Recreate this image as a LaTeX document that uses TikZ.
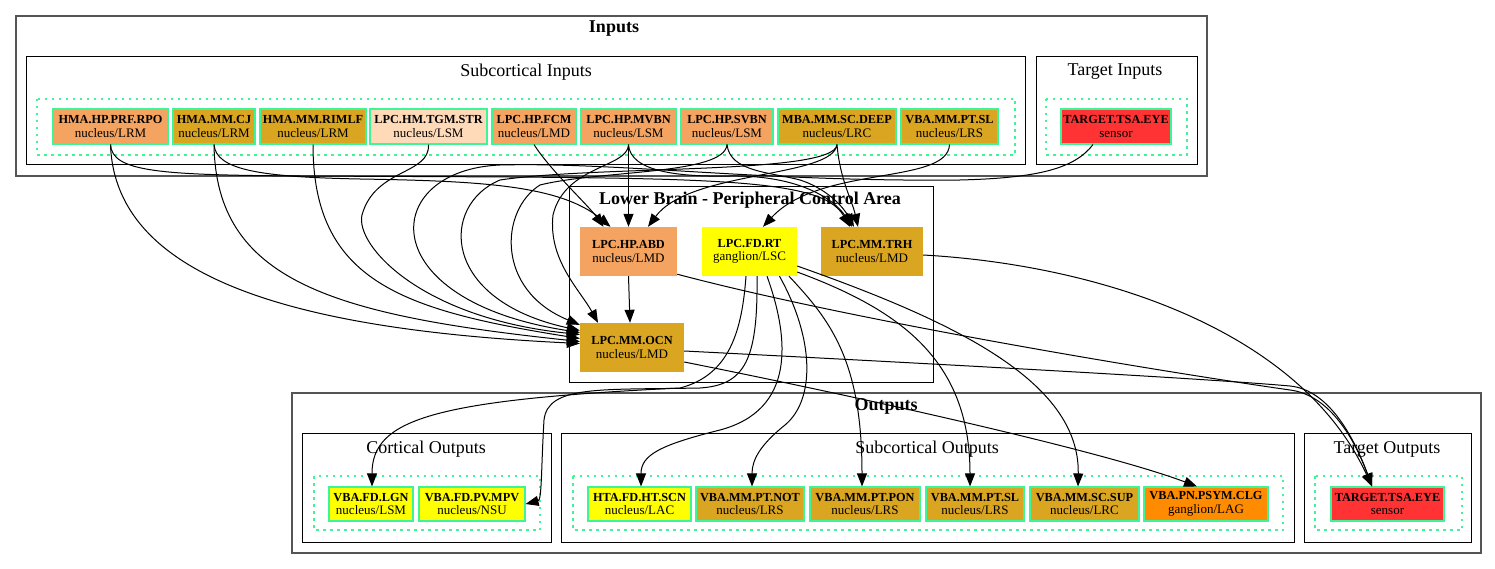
\documentclass[tikz,border=0pt]{standalone}
\usepackage{fontspec}
\setmainfont{Liberation Serif}
\usetikzlibrary{arrows.meta,calc}
\definecolor{sandy}{HTML}{F4A460}
\definecolor{gold}{HTML}{DAA520}
\definecolor{peach}{HTML}{FFDAB9}
\definecolor{eyered}{HTML}{FF3333}
\definecolor{yel}{HTML}{FFFF00}
\definecolor{dorange}{HTML}{FF8C00}
\definecolor{sgreen}{HTML}{3CF596}
\definecolor{outergray}{HTML}{555555}
\newcommand{\twoline}[2]{{\fontsize{12.3}{13.5}\selectfont\bfseries #1}\\{\fontsize{13}{13.5}\selectfont #2}}
\tikzset{
  nbox/.style={rectangle, draw=sgreen, line width=1.1pt, inner sep=0pt, minimum height=35pt, align=center, font=\fontsize{13}{13.5}\selectfont},
  obox/.style={nbox, minimum height=34pt},
  lbox/.style={rectangle, inner sep=0pt, minimum height=49pt, align=center, font=\fontsize{13}{13.5}\selectfont},
  outerclu/.style={draw=outergray, line width=1.3pt},
  clu/.style={draw=black, line width=1pt},
  dotclu/.style={draw=sgreen, line width=1.2pt, dash pattern=on 2.5pt off 4.5pt},
  edge/.style={draw=black, line width=1pt, -{Triangle[length=13pt,width=10pt]}},
  ctitle/.style={inner sep=0pt, font=\fontsize{18}{20}\selectfont\bfseries},
  clabel/.style={inner sep=0pt, font=\fontsize{18}{20}\selectfont},
}
\begin{document}
\begin{tikzpicture}[x=1pt,y=-1pt]
\useasboundingbox (0,0) rectangle (1495,569);
\fill[white] (0,0) rectangle (1495,569);
% clusters
\draw[outerclu] (16,16) rectangle (1207,176);
\node[ctitle] (tIn) at (614,29) {Inputs};
\draw[clu] (26,57) rectangle (1025,165);
\node[clabel] (tSubIn) at (526,72) {Subcortical Inputs};
\draw[dotclu] (37,99) rectangle (1015,155);
\draw[clu] (1036,57) rectangle (1197,165);
\node[clabel] (tTgIn) at (1115,72) {Target Inputs};
\draw[dotclu] (1046,99) rectangle (1187,155);
\draw[clu] (569,187) rectangle (933,382);
\node[ctitle] (tLB) at (750,200) {Lower Brain - Peripheral Control Area};
\draw[outerclu] (292,393) rectangle (1481,553);
\node[ctitle] (tOut) at (886,406) {Outputs};
\draw[clu] (302,433) rectangle (551,542);
\node[clabel] (tCort) at (426,449) {Cortical Outputs};
\draw[dotclu] (314,476) rectangle (540,530);
\draw[clu] (561,433) rectangle (1294,542);
\node[clabel] (tSubOut) at (927,449) {Subcortical Outputs};
\draw[dotclu] (573,476) rectangle (1283,530);
\draw[clu] (1304,433) rectangle (1471,542);
\node[clabel] (tTgOut) at (1387,449) {Target Outputs};
\draw[dotclu] (1315,476) rectangle (1462,530);
% input nodes
\node[nbox, fill=sandy, minimum width=115pt] (n1) at (110.5,126.5) {\twoline{HMA.HP.PRF.RPO}{nucleus/LRM}};
\node[nbox, fill=gold, minimum width=82pt] (n2) at (214,126.5) {\twoline{HMA.MM.CJ}{nucleus/LRM}};
\node[nbox, fill=gold, minimum width=106pt] (n3) at (313,126.5) {\twoline{HMA.MM.RIMLF}{nucleus/LRM}};
\node[nbox, fill=peach, minimum width=117pt] (n4) at (428.5,126.5) {\twoline{LPC.HM.TGM.STR}{nucleus/LSM}};
\node[nbox, fill=sandy, minimum width=84pt] (n5) at (534,126.5) {\twoline{LPC.HP.FCM}{nucleus/LMD}};
\node[nbox, fill=sandy, minimum width=95pt] (n6) at (628.5,126.5) {\twoline{LPC.HP.MVBN}{nucleus/LSM}};
\node[nbox, fill=sandy, minimum width=92pt] (n7) at (727,126.5) {\twoline{LPC.HP.SVBN}{nucleus/LSM}};
\node[nbox, fill=gold, minimum width=118pt] (n8) at (837,126.5) {\twoline{MBA.MM.SC.DEEP}{nucleus/LRC}};
\node[nbox, fill=gold, minimum width=97pt] (n9) at (949.5,126.5) {\twoline{VBA.MM.PT.SL}{nucleus/LRS}};
\node[nbox, fill=eyered, minimum width=110pt] (ti) at (1116,126.5) {\twoline{TARGET.TSA.EYE}{sensor}};
% lower brain nodes
\node[lbox, fill=sandy, minimum width=97pt] (abd) at (628.5,251.5) {\twoline{LPC.HP.ABD}{nucleus/LMD}};
\node[lbox, fill=yel, minimum width=95pt] (rt) at (749.5,251.5) {\twoline{LPC.FD.RT}{ganglion/LSC}};
\node[lbox, fill=gold, minimum width=102pt] (trh) at (872,251.5) {\twoline{LPC.MM.TRH}{nucleus/LMD}};
\node[lbox, fill=gold, minimum width=104pt] (ocn) at (632,347.5) {\twoline{LPC.MM.OCN}{nucleus/LMD}};
% output nodes
\node[obox, fill=yel, minimum width=84pt] (lgn) at (371,504) {\twoline{VBA.FD.LGN}{nucleus/LSM}};
\node[obox, fill=yel, minimum width=106pt] (mpv) at (472,504) {\twoline{VBA.FD.PV.MPV}{nucleus/NSU}};
\node[obox, fill=yel, minimum width=103pt] (scn) at (639.5,504) {\twoline{HTA.FD.HT.SCN}{nucleus/LAC}};
\node[obox, fill=gold, minimum width=108pt] (not) at (750,504) {\twoline{VBA.MM.PT.NOT}{nucleus/LRS}};
\node[obox, fill=gold, minimum width=110pt] (pon) at (865,504) {\twoline{VBA.MM.PT.PON}{nucleus/LRS}};
\node[obox, fill=gold, minimum width=98pt] (psl) at (975,504) {\twoline{VBA.MM.PT.SL}{nucleus/LRS}};
\node[obox, fill=gold, minimum width=109pt] (sup) at (1084.5,504) {\twoline{VBA.MM.SC.SUP}{nucleus/LRC}};
\node[obox, fill=dorange, minimum width=124pt] (clg) at (1206,504) {\twoline{VBA.PN.PSYM.CLG}{ganglion/LAG}};
\node[obox, fill=eyered, minimum width=113pt] (to) at (1387.5,504) {\twoline{TARGET.TSA.EYE}{sensor}};
% edges from inputs
\draw[edge] (n1.south) .. controls (115,280) and (300,330) .. ([yshift=4pt]ocn.west);
\draw[edge] (n1.south) .. controls (112,172) and (160,175) .. (300,176) .. controls (700,178) and (820,175) .. ([xshift=-22pt]trh.north);
\draw[edge] (n2.south) .. controls (216,280) and (330,315) .. ([yshift=6pt]ocn.west);
\draw[edge] (n2.south) .. controls (216,170) and (260,177) .. (360,179) .. controls (480,181) and (560,185) .. ([xshift=-18pt]abd.north);
\draw[edge] (n3.south) .. controls (313,280) and (400,310) .. ([yshift=9pt]ocn.west);
\draw[edge] (n4.south) .. controls (430,175) and (375,168) .. (362,215) .. controls (355,245) and (420,318) .. ([yshift=13pt]ocn.west);
\draw[edge] (n5.south) .. controls (550,170) and (588,205) .. ([xshift=-25pt]abd.north);
\draw[edge] (n6.south) -- (abd.north);
\draw[edge] (n6.south) .. controls (628,168) and (565,165) .. (553,215) .. controls (548,260) and (580,290) .. ([xshift=-34pt]ocn.north);
\draw[edge] (n6.south) .. controls (630,172) and (680,177) .. (730,176) .. controls (800,175) and (835,200) .. ([xshift=-20pt]trh.north);
\draw[edge] (n7.south) .. controls (725,175) and (600,170) .. (540,185) .. controls (500,210) and (495,290) .. ([yshift=-2pt]ocn.north west);
\draw[edge] (n7.south) .. controls (730,172) and (770,172) .. (800,180) .. controls (825,188) and (842,205) .. ([xshift=-18pt]trh.north);
\draw[edge] (n8.south) .. controls (833,178) and (690,170) .. ([xshift=19.5pt]abd.north);
\draw[edge] (n8.south) .. controls (835,175) and (600,165) .. (500,180) .. controls (440,205) and (440,300) .. ([yshift=17pt]ocn.west);
\draw[edge] (n8.south) .. controls (840,180) and (852,200) .. ([xshift=-14pt]trh.north);
\draw[edge] (n9.south) .. controls (948,185) and (820,165) .. ([xshift=13.5pt]rt.north);
\draw[edge] ([xshift=-23pt]ti.south) .. controls (1075,168) and (1040,178) .. (960,180) .. controls (760,182) and (620,162) .. (500,165) .. controls (380,170) and (370,300) .. ([yshift=15pt]ocn.west);
% edges inside / to outputs
\draw[edge] (abd.south) -- ([xshift=-2pt]ocn.north);
\draw[edge] ([yshift=2pt]abd.south east) .. controls (850,320) and (1150,370) .. (1290,390) .. controls (1330,395) and (1355,440) .. ([xshift=-15.5pt]to.north);
\draw[edge] ([yshift=-3.5pt]ocn.east) .. controls (900,362) and (1200,378) .. (1290,386) .. controls (1330,390) and (1355,440) .. ([xshift=-15.5pt]to.north);
\draw[edge] ([yshift=-3.5pt]trh.east) .. controls (1100,265) and (1300,330) .. ([xshift=-15.5pt]to.north);
\draw[edge] ([yshift=-14.5pt]ocn.east) .. controls (850,395) and (1100,450) .. ([xshift=-9pt]clg.north);
\draw[edge] ([xshift=-3.5pt]rt.south) .. controls (742,330) and (730,375) .. (680,388) .. controls (430,400) and (372,420) .. ([xshift=1pt]lgn.north);
\draw[edge] ([xshift=7.5pt]rt.south) .. controls (758,360) and (745,385) .. (700,388) .. controls (600,390) and (548,385) .. (544,420) .. controls (541,470) and (542,500) .. (mpv.east);
\draw[edge] ([xshift=17.5pt]rt.south) .. controls (790,340) and (795,410) .. (720,430) .. controls (660,445) and (641,455) .. ([xshift=1.5pt]scn.north);
\draw[edge] ([xshift=30pt]rt.south) .. controls (815,340) and (815,400) .. (785,425) .. controls (760,445) and (752,460) .. ([xshift=2pt]not.north);
\draw[edge] ([xshift=39.5pt]rt.south) .. controls (830,320) and (862,360) .. ([xshift=-3pt]pon.north);
\draw[edge] ([yshift=-20.5pt]rt.east) .. controls (900,310) and (970,360) .. ([xshift=-5pt]psl.north);
\draw[edge] ([yshift=-14.5pt]rt.east) .. controls (950,320) and (1080,380) .. ([xshift=-6.5pt]sup.north);
\end{tikzpicture}
\end{document}
